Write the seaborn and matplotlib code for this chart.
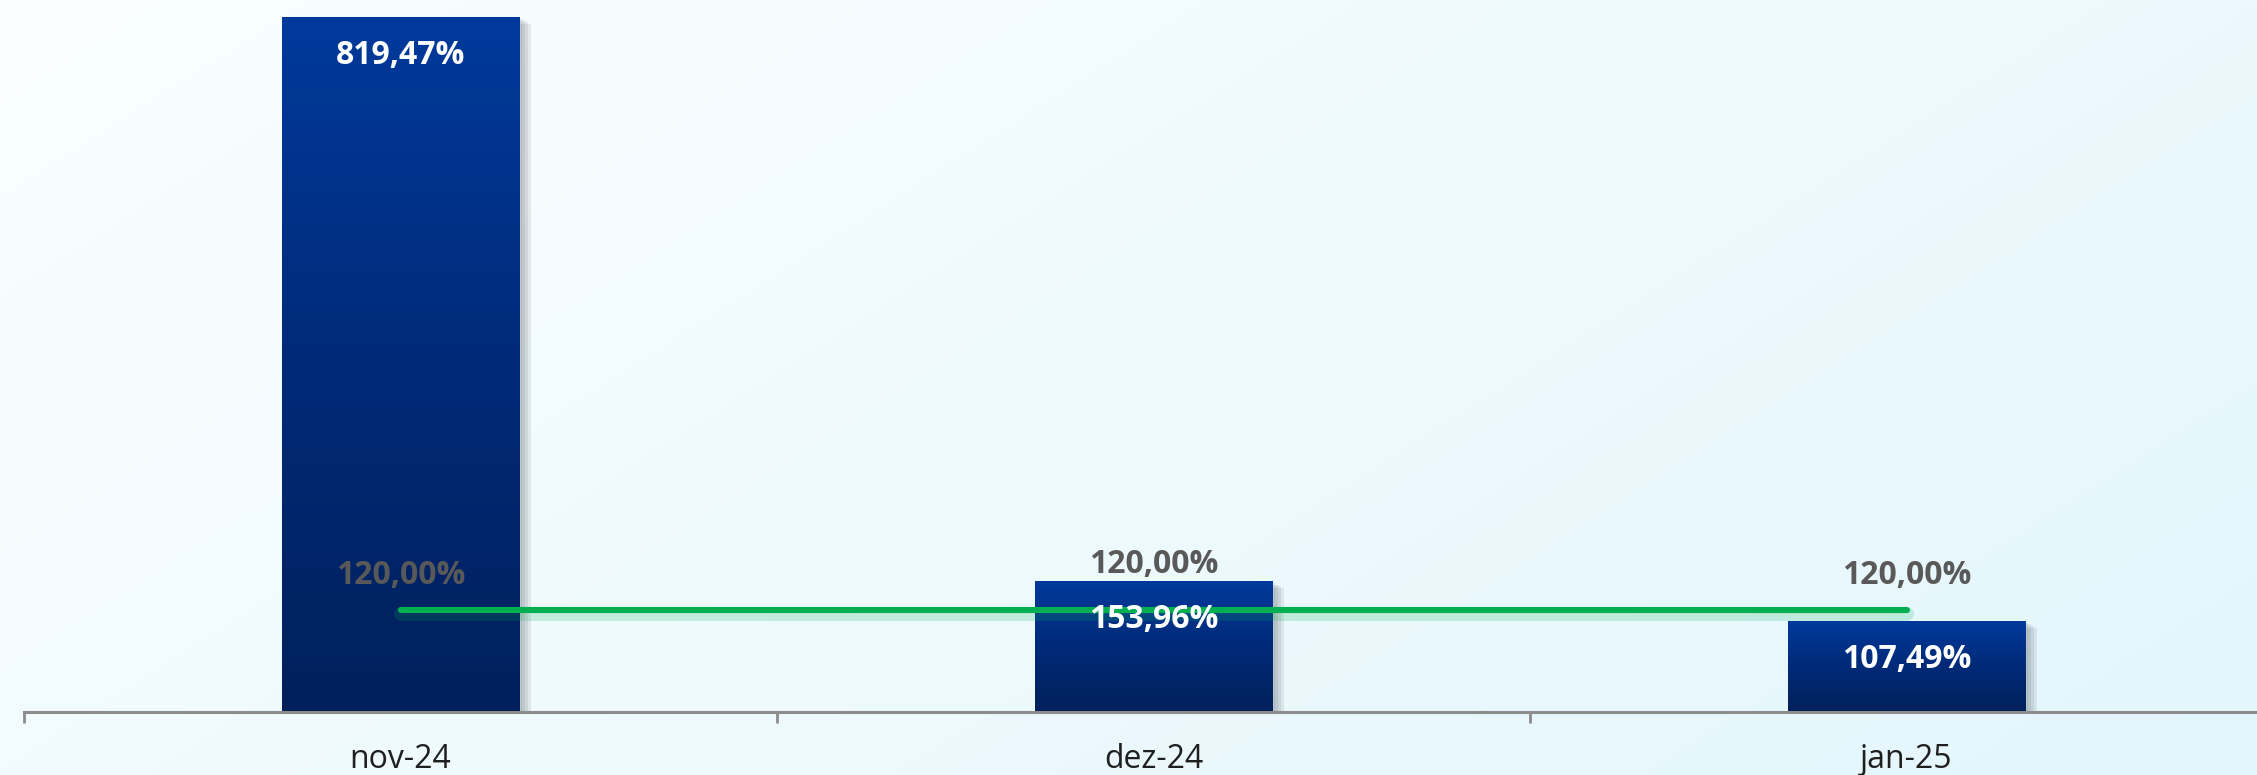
import numpy as np
import pandas as pd
import matplotlib
matplotlib.use('Agg')
import matplotlib.pyplot as plt
import matplotlib.patheffects as pe
from matplotlib.colors import LinearSegmentedColormap
import seaborn as sns

# dados do gráfico
categorias = ['nov-24', 'dez-24', 'jan-25']
realizado = [819.47, 153.96, 107.49]
meta = [120.00, 120.00, 120.00]

sns.set_style('white')
plt.rcParams['font.family'] = ['Open Sans', 'DejaVu Sans']

df = pd.DataFrame({'mes': categorias, 'realizado': realizado, 'meta': meta})


def fmt(v):
    return f'{v:.2f}'.replace('.', ',') + '%'


fig = plt.figure(figsize=(22.57, 7.75), dpi=100)

# fundo em degradê (claro no canto superior esquerdo, ciano no inferior direito)
bg = fig.add_axes([0, 0, 1, 1], zorder=-10)
gx, gy = np.meshgrid(np.linspace(0, 1, 300), np.linspace(0, 1, 300))
bg_cmap = LinearSegmentedColormap.from_list('bg', ['#FAFEFF', '#E3F6FC'])
bg.imshow(gx * 0.65 + gy * 0.35, cmap=bg_cmap, aspect='auto', extent=[0, 1, 0, 1], origin='upper')
bg.axis('off')

# eixo principal (a última categoria fica cortada à direita, como no original)
ax = fig.add_axes([24 / 2257, 63 / 775, 2259 / 2257, 712 / 775])
ax.patch.set_alpha(0)

sns.barplot(data=df, x='mes', y='realizado', ax=ax, width=0.316, color='#002A7A',
            saturation=1, zorder=2)

bar_cmap = LinearSegmentedColormap.from_list('barra', ['#00205B', '#002A78', '#003A9C'])
sombra = [pe.SimplePatchShadow(offset=(o, -o * 0.6), shadow_rgbFace='#404850', alpha=0.10)
          for o in (2, 4, 6, 8)]
for p in ax.patches:
    x0, y0, w, h = p.get_x(), p.get_y(), p.get_width(), p.get_height()
    p.set_path_effects(sombra + [pe.Normal()])
    img = ax.imshow(np.linspace(0, 1, 256).reshape(-1, 1), cmap=bar_cmap, aspect='auto',
                    extent=[x0, x0 + w, y0, y0 + h], origin='lower', zorder=2.5)
    img.set_clip_path(p)

# linha da meta
sns.lineplot(data=df, x='mes', y='meta', ax=ax, color='#00B050', linewidth=4.4,
             sort=False, zorder=4)
linha = ax.lines[-1]
linha.set_solid_capstyle('round')
linha.set_path_effects([pe.SimpleLineShadow(offset=(0, -3), shadow_color='#00B050',
                                            alpha=0.18, linewidth=10), pe.Normal()])

# rótulos dos valores
px = 72 / 100
for i, (v, m) in enumerate(zip(realizado, meta)):
    ax.annotate(fmt(v), (i, v), xytext=(0, -47 * px), textcoords='offset points',
                ha='center', va='baseline', color='white', fontsize=23,
                fontweight='bold', zorder=6)
    if m < v < m * 1.5:
        ax.annotate(fmt(m), (i, v), xytext=(0, 8 * px), textcoords='offset points',
                    ha='center', va='baseline', color='#595959', fontsize=23,
                    fontweight='bold', zorder=6)
    else:
        ax.annotate(fmt(m), (i, m), xytext=(0, 26 * px), textcoords='offset points',
                    ha='center', va='baseline', color='#595959', fontsize=23,
                    fontweight='bold', zorder=6)

ax.set_xlim(-0.5, 2.5)
ax.set_ylim(0, 839.5)
ax.set_yticks([])
ax.set_xlabel('')
ax.set_ylabel('')
ax.set_xticks(range(len(categorias)))
ax.set_xticklabels(categorias)
ax.set_xticks([-0.5, 0.5, 1.5, 2.5], minor=True)
ax.tick_params(axis='x', which='major', length=0, pad=22, labelsize=23, labelcolor='#1F1F1F')
ax.tick_params(axis='x', which='minor', length=8, width=2, color='#8C8C8C', bottom=True)
for s in ['top', 'right', 'left']:
    ax.spines[s].set_visible(False)
ax.spines['bottom'].set_color('#8C8C8C')
ax.spines['bottom'].set_linewidth(2.2)
ax.spines['bottom'].set_zorder(5)

fig.savefig('out.png', dpi=100)
